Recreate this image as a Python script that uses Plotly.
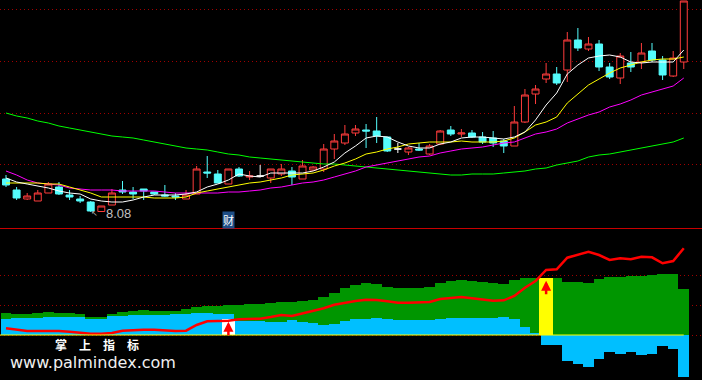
import plotly.graph_objects as go

# ---------------- data ----------------
opens = [9.40, 8.96, 8.60, 8.52, 8.84, 9.08, 8.76, 8.60, 8.48, 8.10,
         8.36, 8.96, 8.88, 9.00, 8.88, 8.76, 8.72, 8.60, 8.80, 9.68,
         9.60, 9.20, 9.80, 9.48, 9.52, 9.44, 9.60, 9.72, 9.40, 9.76,
         9.80, 10.60, 10.84, 11.24, 11.36, 11.32, 11.08, 10.60, 10.48, 10.60,
         10.40, 10.80, 11.36, 11.20, 11.24, 11.08, 11.04, 10.92, 10.72, 11.68,
         12.80, 13.40, 13.60, 13.76, 14.96, 14.60, 14.80, 13.88, 13.44, 14.04,
         14.08, 14.52, 14.16, 13.52, 14.08]
highs = [9.56, 9.08, 8.84, 8.96, 9.28, 9.28, 8.96, 8.72, 8.52, 8.32,
         9.00, 9.32, 9.08, 9.00, 8.88, 9.16, 8.84, 8.96, 9.92, 10.32,
         9.76, 9.80, 9.88, 9.72, 9.96, 9.80, 10.00, 9.88, 10.16, 9.92,
         10.80, 11.20, 11.56, 11.56, 11.60, 11.88, 11.08, 10.84, 10.68, 10.84,
         10.80, 11.36, 11.52, 11.40, 11.36, 11.28, 11.32, 11.00, 12.32, 13.00,
         13.16, 14.04, 13.88, 15.28, 15.44, 15.08, 14.96, 14.04, 14.44, 14.48,
         14.84, 14.84, 14.32, 14.52, 16.52]
lows = [9.08, 8.56, 8.56, 8.52, 8.84, 8.76, 8.56, 8.44, 8.08, 8.10,
        8.36, 8.80, 8.60, 8.56, 8.76, 8.68, 8.56, 8.60, 8.80, 9.44,
        9.24, 9.20, 9.48, 9.36, 9.48, 9.24, 9.52, 9.16, 9.40, 9.72,
        9.68, 10.20, 10.76, 11.12, 10.64, 10.84, 10.48, 10.44, 10.36, 10.52,
        10.36, 10.76, 11.12, 11.08, 11.04, 10.80, 10.68, 10.44, 10.72, 11.64,
        12.40, 13.24, 13.16, 13.28, 14.52, 14.52, 13.72, 13.40, 13.20, 13.68,
        13.80, 14.08, 13.36, 13.48, 13.80]
closes = [9.16, 8.64, 8.72, 8.84, 9.20, 8.80, 8.68, 8.52, 8.12, 8.32,
          8.84, 8.88, 8.80, 8.92, 8.80, 8.72, 8.68, 8.76, 9.80, 9.64,
          9.24, 9.80, 9.52, 9.52, 9.52, 9.80, 9.80, 9.48, 9.92, 9.88,
          10.60, 10.92, 11.20, 11.40, 11.32, 11.12, 10.52, 10.60, 10.64, 10.56,
          10.72, 11.32, 11.20, 11.24, 11.08, 10.88, 10.84, 10.72, 11.68, 12.76,
          13.00, 13.60, 13.24, 14.96, 14.64, 14.80, 13.88, 13.48, 14.32, 13.88,
          14.44, 14.16, 13.56, 14.24, 16.52]

ma5 = [9.44, 9.28, 9.20, 9.12, 9.04, 8.92, 8.84, 8.80, 8.60, 8.52, 8.48, 8.48,
       8.56, 8.68, 8.76, 8.76, 8.76, 8.80, 8.88, 9.08, 9.20, 9.36, 9.60,
       9.52, 9.48, 9.64, 9.64, 9.64, 9.64, 9.72, 9.88, 10.08, 10.44, 10.72,
       11.04, 11.12, 11.08, 10.88, 10.72, 10.64, 10.64, 10.80, 10.88, 11.04,
       11.08, 11.08, 11.04, 11.00, 11.08, 11.28, 11.76, 12.36, 12.84, 13.60,
       13.96, 14.24, 14.32, 14.36, 14.28, 14.08, 14.04, 14.08, 14.08, 14.08, 14.56]
ma10 = [9.24, 9.24, 9.24, 9.24, 9.20, 9.20, 9.08, 8.96, 8.84, 8.68, 8.68, 8.68,
        8.68, 8.68, 8.64, 8.64, 8.64, 8.68, 8.84, 8.92, 9.00, 9.08, 9.16,
        9.24, 9.28, 9.36, 9.44, 9.56, 9.60, 9.64, 9.76, 9.92, 10.04, 10.20,
        10.40, 10.48, 10.60, 10.68, 10.80, 10.84, 10.88, 10.88, 10.88, 10.92,
        10.88, 10.88, 10.88, 10.92, 11.04, 11.28, 11.56, 11.68, 11.88, 12.44,
        12.80, 13.16, 13.40, 13.64, 13.84, 13.96, 14.08, 14.16, 14.20, 14.20, 14.28]
ma20 = [9.72, 9.56, 9.36, 9.24, 9.20, 9.16, 9.04, 9.00, 8.96, 8.96, 8.96, 8.92,
        8.92, 8.92, 8.92, 8.88, 8.84, 8.84, 8.84, 8.84, 8.84, 8.88, 8.88,
        8.92, 8.96, 9.04, 9.08, 9.16, 9.24, 9.28, 9.36, 9.48, 9.60, 9.72,
        9.88, 9.96, 10.04, 10.12, 10.20, 10.28, 10.32, 10.44, 10.52, 10.60,
        10.64, 10.68, 10.76, 10.84, 10.88, 11.04, 11.20, 11.28, 11.40, 11.64,
        11.80, 11.96, 12.08, 12.28, 12.40, 12.56, 12.76, 12.88, 13.00, 13.12, 13.44]
ma60 = [12.04, 11.92, 11.84, 11.72, 11.64, 11.52, 11.44, 11.36, 11.28, 11.20,
        11.12, 11.08, 11.04, 10.96, 10.88, 10.80, 10.72, 10.64, 10.60, 10.56,
        10.48, 10.40, 10.36, 10.28, 10.24, 10.20, 10.16, 10.12, 10.08, 10.04,
        10.00, 10.00, 9.96, 9.92, 9.88, 9.84, 9.80, 9.76, 9.72, 9.68,
        9.64, 9.60, 9.56, 9.56, 9.60, 9.60, 9.60, 9.64, 9.68, 9.72,
        9.80, 9.84, 9.96, 10.04, 10.12, 10.28, 10.36, 10.40, 10.48, 10.56,
        10.64, 10.72, 10.80, 10.88, 11.04]

grid_top = [9.99, 12.04, 14.09, 16.19]

green_band = [22.3, 20.7, 20.7, 21.7, 23.3, 22.3, 22.3, 21.0, 18.3, 18.3,
              20.7, 22.7, 24.0, 25.0, 24.3, 24.3, 24.3, 25.7, 28.3, 29.0,
              29.0, 30.0, 30.0, 31.0, 31.0, 32.0, 33.0, 33.0, 34.0, 35.0,
              38.3, 42.0, 47.0, 50.0, 52.0, 51.0, 48.0, 47.0, 47.0, 47.0,
              48.0, 52.0, 54.0, 55.0, 54.0, 53.0, 52.0, 51.0, 55.0, 57.0,
              57.0, 56.7, 57.0, 53.0, 53.0, 52.0, 56.0, 58.0, 58.0, 59.0,
              59.0, 60.0, 61.0, 61.0, 46.0]
blue_band = [16.0, 17.3, 17.3, 17.3, 18.3, 18.3, 18.3, 18.3, 16.0, 16.0,
             19.3, 19.3, 20.0, 20.0, 20.0, 20.0, 20.7, 20.7, 21.7, 22.0,
             21.3, 21.3, 14.3, 14.3, 14.3, 13.0, 13.0, 15.0, 13.0, 12.3,
             10.0, 11.0, 14.0, 16.0, 16.0, 17.0, 16.0, 15.0, 15.0, 15.0,
             15.0, 16.0, 17.0, 17.0, 17.0, 17.0, 17.0, 18.0, 16.0, 8.0,
             1.3, -10.0, -10.0, -26.0, -28.7, -31.7, -24.0, -16.7, -18.7, -16.7,
             -19.7, -18.7, -10.7, -14.0, -41.7]
red_line = [6.7, 5.0, 4.0, 4.0, 4.3, 4.0, 3.3, 2.0, 1.3, 1.3,
            2.0, 4.3, 5.0, 5.3, 5.3, 4.7, 4.0, 4.3, 10.0, 13.7,
            13.7, 14.3, 15.7, 15.7, 16.3, 18.0, 20.0, 19.0, 21.7, 24.0,
            26.7, 30.3, 32.3, 34.0, 35.3, 35.0, 33.7, 32.3, 32.3, 32.3,
            33.0, 36.0, 36.7, 38.0, 36.7, 35.7, 34.3, 34.7, 39.0, 47.3,
            54.0, 65.0, 65.7, 77.3, 80.0, 83.3, 80.0, 75.0, 76.7, 75.7,
            78.3, 77.7, 71.7, 74.0, 86.7]
signal_idx = [21, 51]
signal_height = [15.7, 56.7]
signal_color = ["#FFFFFF", "#FFFF00"]
cai_idx = [21]
grid_bottom = [0, 30, 60]

# ---------------- styling ----------------
RED = "#FF3C3C"
CYAN = "#54FCFC"
GRID = "#A00000"
n = len(opens)
xs = list(range(n))
X_RANGE = [-0.567, 65.72]

fig = go.Figure()

def cs(idx, color, fill):
    return go.Candlestick(
        x=[xs[i] for i in idx], open=[opens[i] for i in idx], high=[highs[i] for i in idx],
        low=[lows[i] for i in idx], close=[closes[i] for i in idx],
        increasing=dict(line=dict(color=color, width=1), fillcolor=fill),
        decreasing=dict(line=dict(color=color, width=1), fillcolor=fill),
        whiskerwidth=0, hoverinfo="skip", xaxis="x", yaxis="y")

up = [i for i in xs if closes[i] > opens[i]]
dn = [i for i in xs if closes[i] < opens[i]]
fl = [i for i in xs if closes[i] == opens[i]]
fig.add_trace(cs(up, RED, "#000000"))
fig.add_trace(cs(dn, CYAN, CYAN))
if fl:
    fig.add_trace(cs(fl, "#FFFFFF", "#FFFFFF"))

for vals, col in [(ma60, "#00FF00"), (ma20, "#FF00FF"), (ma10, "#FFFF00"), (ma5, "#FFFFFF")]:
    fig.add_trace(go.Scatter(x=xs, y=vals, mode="lines", line=dict(color=col, width=1),
                             hoverinfo="skip", xaxis="x", yaxis="y"))

# lower panel
fig.add_trace(go.Bar(x=xs, y=green_band, width=1, marker=dict(color="#009600", line=dict(width=0)),
                     xaxis="x", yaxis="y2", hoverinfo="skip"))
fig.add_trace(go.Bar(x=xs, y=blue_band, width=1, marker=dict(color="#00BFFF", line=dict(width=0)),
                     xaxis="x", yaxis="y2", hoverinfo="skip"))
fig.add_trace(go.Bar(x=signal_idx, y=signal_height, width=1.25,
                     marker=dict(color=signal_color, line=dict(width=0)),
                     xaxis="x", yaxis="y2", hoverinfo="skip"))
fig.add_trace(go.Scatter(x=xs, y=red_line, mode="lines", line=dict(color="#FF0000", width=2.5),
                         hoverinfo="skip", xaxis="x", yaxis="y2"))

shapes = [
    dict(type="line", xref="paper", yref="paper", x0=0, x1=1, y0=1 - 228.5 / 380, y1=1 - 228.5 / 380,
         line=dict(color="#C80000", width=1)),
    dict(type="line", xref="x", yref="y2", x0=X_RANGE[0], x1=xs[-1], y0=0, y1=0,
         line=dict(color="#FFFF00", width=1)),
]

ann = []
imin = min(xs, key=lambda i: lows[i])
ann.append(dict(x=imin, y=lows[imin], xref="x", yref="y", text=f"{lows[imin]:.2f}",
                showarrow=False, xanchor="left", yanchor="middle", xshift=13, yshift=-1,
                font=dict(family="Liberation Sans", size=13, color="#C0C0C0")))
ann.append(dict(x=imin, y=lows[imin], xref="x", yref="y", text="↖",
                showarrow=False, xanchor="center", yanchor="middle", xshift=4, yshift=-1,
                font=dict(family="DejaVu Sans", size=8, color="#B0B0B0")))
for i in cai_idx:
    ann.append(dict(x=i, y=1 - 220 / 380, xref="x", yref="paper", text="财", showarrow=False,
                    xanchor="center", yanchor="middle", bgcolor="#1E4E86", borderpad=0,
                    font=dict(family="Noto Sans CJK SC", size=11, color="#FFFFFF")))
for i, h in zip(signal_idx, signal_height):
    ann.append(dict(x=i, y=h - 2.5, xref="x", yref="y2", text="", showarrow=True,
                    ax=0, ay=15, arrowhead=2, arrowsize=0.8, arrowwidth=2.5,
                    arrowcolor="#FF0000", standoff=0))
ann.append(dict(x=96.5 / 702, y=1 - 344.5 / 380, xref="paper", yref="paper", text="<b>掌　上　指　标</b>",
                showarrow=False, xanchor="center", yanchor="middle",
                font=dict(family="Noto Sans CJK SC", size=12, color="#FFFFFF")))
ann.append(dict(x=8 / 702, y=1 - 362.5 / 380, xref="paper", yref="paper", text="www.palmindex.com",
                showarrow=False, xanchor="left", yanchor="middle",
                font=dict(family="DejaVu Sans", size=16, color="#F0F0F0")))

fig.update_layout(
    width=702, height=380, margin=dict(l=0, r=0, t=0, b=0),
    paper_bgcolor="#000000", plot_bgcolor="#000000", showlegend=False,
    barmode="overlay", bargap=0, boxgap=0.19, boxgroupgap=0.19,
    xaxis=dict(range=X_RANGE, visible=False, rangeslider=dict(visible=False), domain=[0, 1], anchor="y"),
    yaxis=dict(domain=[0.4, 1], range=[7.44, 16.56], showticklabels=False, ticks="",
               showgrid=True, gridcolor=GRID, gridwidth=1, griddash="1px,3px",
               tickmode="array", tickvals=grid_top, zeroline=False, showline=False),
    yaxis2=dict(domain=[0, 1 - 229 / 380], range=[-45, 106], anchor="x", showticklabels=False, ticks="",
                showgrid=True, gridcolor=GRID, gridwidth=1, griddash="1px,3px",
                tickmode="array", tickvals=grid_bottom, zeroline=False, showline=False),
    shapes=shapes, annotations=ann,
)

fig.write_html("out.html", config={"displayModeBar": False},
               post_script="document.body.style.margin='0';document.body.style.background='#000';")
